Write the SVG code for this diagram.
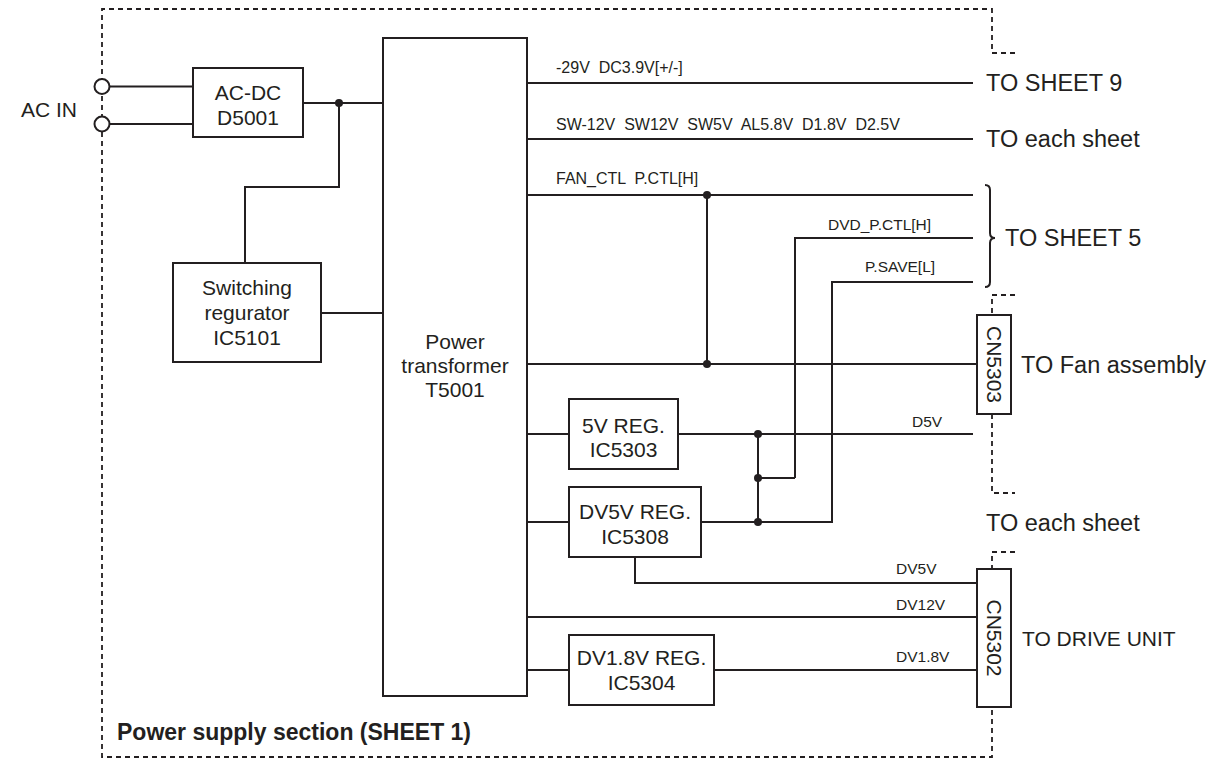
<svg xmlns="http://www.w3.org/2000/svg" width="1212" height="760" viewBox="0 0 1212 760">
<style>
text{font-family:"Liberation Sans",Arial,sans-serif;fill:#231f20}
.box{fill:#fff;stroke:#231f20;stroke-width:2}
.w{fill:none;stroke:#231f20;stroke-width:2}
.d{fill:none;stroke:#231f20;stroke-width:1.8;stroke-dasharray:5 4}
.dot{fill:#231f20}
.bt{font-size:21px;text-anchor:middle}
.sig{font-size:15.5px;white-space:pre}
.sigt{font-size:16px;white-space:pre}
.to{font-size:23.5px}
</style>
<rect width="1212" height="760" fill="#fff"/>
<g id="border">
<path class="d" d="M1015,53 H992 V9 H102 V757 H992 V707"/>
<path class="d" d="M1015,295 H992 V315"/>
<path class="d" d="M992,414 V493 H1015"/>
<path class="d" d="M1015,552 H992 V569"/>
</g>
<g id="connectors">
<path class="w" d="M110,86.5 H193"/>
<path class="w" d="M110,124 H193"/>
<path class="w" d="M303,103 H383"/>
<path class="w" d="M339,103 V187 H245 V263"/>
<path class="w" d="M321,313 H383"/>
<path class="w" d="M527,83 H973"/>
<path class="w" d="M527,139 H973"/>
<path class="w" d="M527,195 H973"/>
<path class="w" d="M707,195 V364"/>
<path class="w" d="M527,364 H977"/>
<path class="w" d="M795,478 V238 H973"/>
<path class="w" d="M701,522 H832 V282 H973"/>
<path class="w" d="M527,434 H569"/>
<path class="w" d="M678,434 H973"/>
<path class="w" d="M758,434 V522"/>
<path class="w" d="M758,478 H795"/>
<path class="w" d="M527,522 H569"/>
<path class="w" d="M635,557 V583 H977"/>
<path class="w" d="M527,617 H977"/>
<path class="w" d="M527,670 H569"/>
<path class="w" d="M714,670 H977"/>
<path class="w" d="M985,185 Q990,185 990,190 V233 Q990,238 995,238 Q990,238 990,243 V282 Q990,287 985,287"/>
<circle class="dot" cx="339" cy="103" r="4"/>
<circle class="dot" cx="707" cy="195" r="4"/>
<circle class="dot" cx="707" cy="364" r="4"/>
<circle class="dot" cx="758" cy="434" r="4"/>
<circle class="dot" cx="758" cy="478" r="4"/>
<circle class="dot" cx="758" cy="522" r="4"/>
</g>
<g id="acin">
<circle cx="102" cy="86.5" r="7.5" fill="#fff" stroke="#231f20" stroke-width="2"/>
<circle cx="102" cy="124" r="7.5" fill="#fff" stroke="#231f20" stroke-width="2"/>
<text x="21" y="117" font-size="21">AC IN</text>
</g>
<g id="acdc">
<rect class="box" x="193" y="68" width="110" height="69"/>
<text class="bt" x="248" y="100">AC-DC</text>
<text class="bt" x="248" y="125">D5001</text>
</g>
<g id="swreg">
<rect class="box" x="173" y="263" width="148" height="99"/>
<text class="bt" x="247" y="295">Switching</text>
<text class="bt" x="247" y="320">regurator</text>
<text class="bt" x="247" y="345">IC5101</text>
</g>
<g id="transformer">
<rect class="box" x="383" y="38" width="144" height="658"/>
<text class="bt" x="455" y="349">Power</text>
<text class="bt" x="455" y="373">transformer</text>
<text class="bt" x="455" y="397">T5001</text>
</g>
<g id="reg5v">
<rect class="box" x="569" y="399" width="109" height="70"/>
<text class="bt" x="623.5" y="433">5V REG.</text>
<text class="bt" x="623.5" y="457">IC5303</text>
</g>
<g id="regdv5v">
<rect class="box" x="569" y="487" width="132" height="70"/>
<text class="bt" x="635" y="519">DV5V REG.</text>
<text class="bt" x="635" y="544">IC5308</text>
</g>
<g id="regdv18">
<rect class="box" x="569" y="635" width="145" height="70"/>
<text class="bt" x="641.5" y="665">DV1.8V REG.</text>
<text class="bt" x="641.5" y="690">IC5304</text>
</g>
<g id="cn5303">
<rect class="box" x="977" y="315" width="34" height="99"/>
<text class="bt" transform="translate(994,364.5) rotate(90)" y="7.5">CN5303</text>
</g>
<g id="cn5302">
<rect class="box" x="977" y="569" width="34" height="138"/>
<text class="bt" transform="translate(994,638) rotate(90)" y="7.5">CN5302</text>
</g>
<g id="labels">
<text class="sigt" x="556" y="73">-29V  DC3.9V[+/-]</text>
<text class="sigt" x="556" y="130">SW-12V  SW12V  SW5V  AL5.8V  D1.8V  D2.5V</text>
<text class="sigt" x="556" y="184">FAN_CTL  P.CTL[H]</text>
<text class="sig" x="828" y="230">DVD_P.CTL[H]</text>
<text class="sig" x="865" y="272">P.SAVE[L]</text>
<text class="sig" x="912" y="427">D5V</text>
<text class="sig" x="896" y="574">DV5V</text>
<text class="sig" x="896" y="610">DV12V</text>
<text class="sig" x="896" y="662">DV1.8V</text>
<text class="to" x="986" y="91">TO SHEET 9</text>
<text class="to" x="986" y="147">TO each sheet</text>
<text class="to" x="1005" y="246">TO SHEET 5</text>
<text class="to" x="1021" y="373">TO Fan assembly</text>
<text class="to" x="986" y="531">TO each sheet</text>
<text x="1022" y="646" font-size="21">TO DRIVE UNIT</text>
<text x="117" y="740" font-size="23" font-weight="bold">Power supply section (SHEET 1)</text>
</g>
</svg>
